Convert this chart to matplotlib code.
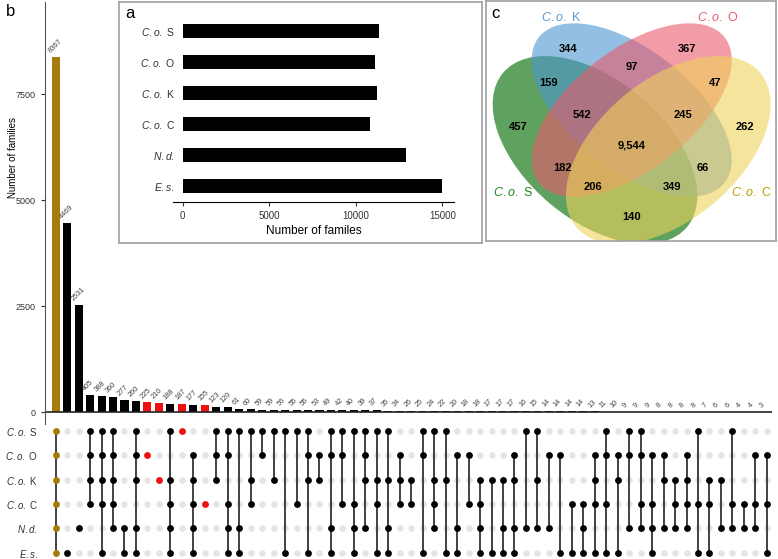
import matplotlib
matplotlib.use("Agg")
import matplotlib.pyplot as plt
from matplotlib.patches import Ellipse

plt.rcParams["font.family"] = ["Liberation Sans", "DejaVu Sans"]
plt.rcParams["mathtext.fontset"] = "custom"
plt.rcParams["mathtext.rm"] = "Liberation Sans"
plt.rcParams["mathtext.it"] = "Liberation Sans:italic"
plt.rcParams["mathtext.bf"] = "Liberation Sans:bold"

# ---- data ----
set_codes = ["S", "O", "K", "C", "N", "E"]
set_labels = [r"$\mathit{C{.}o{.}}$ S", r"$\mathit{C{.}o{.}}$ O", r"$\mathit{C{.}o{.}}$ K",
              r"$\mathit{C{.}o{.}}$ C", r"$\mathit{N{.}d{.}}$", r"$\mathit{E{.}s{.}}$"]

counts = [8367, 4469, 2531, 405, 388, 360, 277, 260, 225, 210, 188, 187, 177, 155,
          123, 120, 61, 60, 59, 59, 56, 55, 55, 53, 49, 42, 40, 39, 37, 35, 34, 26,
          25, 24, 22, 20, 18, 18, 17, 17, 17, 16, 15, 14, 14, 14, 14, 13, 11, 10,
          9, 9, 9, 8, 8, 8, 8, 7, 6, 6, 4, 4, 3]
members = ["SOKCNE", "E", "N", "SOKC", "SOKCE", "SOKCN", "NE", "SOKNE", "O", "K",
           "SKCNE", "S", "OKCNE", "C", "SOK", "SOCNE", "SNE", "SKC", "SO", "SK",
           "SE", "SC", "SOKE", "OK", "SONE", "SOC", "SCNE", "SOKN", "SKCE", "SKNE",
           "OKC", "KC", "SOE", "SKCN", "SKE", "ONE", "OC", "KCNE", "KE", "KNE",
           "OKNE", "SN", "SKN", "ON", "OE", "CE", "CNE", "OKCE", "SOCE", "OKE",
           "SON", "SOCN", "OCNE", "OKN", "KCN", "OKCN", "SCE", "KCE", "KN", "SCN",
           "CN", "OCN", "OCE"]

family_totals = [11350, 11110, 11230, 10820, 12900, 15000]

venn_counts = ["344", "367", "457", "262", "97", "159", "47", "542", "245",
               "9,544", "182", "66", "206", "349", "140"]

# ---- layout helpers ----
W, H = 778, 559
fig = plt.figure(figsize=(W / 100, H / 100), dpi=100)


def px_axes(l, t, r, b):
    return fig.add_axes([l / W, 1 - b / H, (r - l) / W, (b - t) / H])


gold = "#a57c0a"
red = "#f01010"
dark = "#222222"
grey_dot = "#e4e4e4"
xs = list(range(len(counts)))
colors = []
for m in members:
    if len(m) == 6:
        colors.append(gold)
    elif len(m) == 1 and m in "SOKC":
        colors.append(red)
    else:
        colors.append("black")

# ---- b: intersection bars ----
ax = px_axes(45, 2, 772, 425)
ax.bar(xs, counts, width=0.7, color=colors)
ax.axhline(0, color=dark, lw=1.2)
ax.set_xlim(-0.93, 62.45)
ax.set_ylim(-306, 9670)
for sp in ["top", "right", "bottom"]:
    ax.spines[sp].set_visible(False)
ax.spines["left"].set_color("#555555")
ax.set_xticks([])
ax.set_yticks([0, 2500, 5000, 7500])
ax.tick_params(axis="y", labelsize=6.5, length=3, width=0.8, colors="#333333")
for x, c in zip(xs, counts):
    ax.text(x - 0.3, c + 60, str(c), rotation=45, rotation_mode="anchor",
            ha="left", va="bottom", fontsize=5.3, color="#444444")
fig.text(13 / W, 1 - 157 / H, "Number of families", rotation=90,
         ha="center", va="center", fontsize=7)
fig.text(6 / W, 1 - 11 / H, "b", fontsize=12, va="center")

# ---- matrix ----
mx = px_axes(45, 425, 772, 559)
mx.set_xlim(-0.93, 62.45)
mx.set_ylim(5.25, -0.24)
for sp in mx.spines.values():
    sp.set_visible(False)
mx.set_xticks([])
for x in xs:
    mx.scatter([x] * 6, range(6), s=22, color=grey_dot, zorder=1, linewidths=0)
for x, m, col in zip(xs, members, colors):
    rows = [set_codes.index(s) for s in m]
    if len(rows) > 1:
        mx.plot([x, x], [min(rows), max(rows)], color="#333333", lw=1.3, zorder=2)
    mx.scatter([x] * len(rows), rows, s=24, color=col, zorder=3, linewidths=0)
mx.set_yticks(range(6))
mx.set_yticklabels(set_labels, fontsize=7, color="#333333")
mx.tick_params(axis="y", length=0, pad=5)

# ---- a: family totals inset ----
frame_a = px_axes(119, 2, 482, 243)
frame_a.set_xticks([])
frame_a.set_yticks([])
for sp in frame_a.spines.values():
    sp.set_color("#a0a0a0")
    sp.set_linewidth(1.2)
ia = px_axes(173, 15, 454, 201.7)
ia.patch.set_alpha(0)
ypos = list(range(len(family_totals) - 1, -1, -1))
ia.barh(ypos, family_totals, height=0.45, color="black")
ia.set_xlim(-560, 15677)
ia.set_ylim(-0.506, 5.516)
for sp in ["top", "right", "left"]:
    ia.spines[sp].set_visible(False)
ia.set_xticks([0, 5000, 10000, 15000])
ia.tick_params(axis="x", labelsize=7, length=3, colors="#333333")
ia.set_yticks(ypos)
ia.set_yticklabels(set_labels, fontsize=7.5, color="#333333")
ia.tick_params(axis="y", length=0, pad=-1.5)
ia.set_xlabel("Number of familes", fontsize=8.5, labelpad=3)
fig.text(125 / W, 1 - 14 / H, "a", fontsize=12, va="center")

# ---- c: Venn ----
vc = px_axes(486, 1, 776, 241)
vc.set_xlim(486, 776)
vc.set_ylim(241, 1)
vc.set_xticks([])
vc.set_yticks([])
for sp in vc.spines.values():
    sp.set_color("#a0a0a0")
    sp.set_linewidth(1.2)
ellipses = [
    ((595, 150), 240, 140, 40, "#0d720d", 0.66),
    ((631.7, 110), 236, 120, 38, "#4b96d0", 0.6),
    ((631.7, 110), 236, 120, -38, "#ea5a6c", 0.6),
    ((668.3, 150), 240, 140, -40, "#efd25a", 0.6),
]
for center, w, h, ang, col, alpha in ellipses:
    vc.add_patch(Ellipse(center, w, h, angle=ang, facecolor=col,
                         alpha=alpha, edgecolor="none"))
venn_pos = [(568, 49), (687, 49), (518, 127), (745, 127), (632, 67),
            (548, 83), (715, 83), (582, 115), (683, 115), (632, 145),
            (563, 168), (703, 168), (593, 187), (672, 187), (632, 217)]
for txt, (x, y) in zip(venn_counts, venn_pos):
    vc.text(x, y, txt, ha="center", va="center", fontsize=8, fontweight="bold")
set_names = [(r"$\mathit{C{.}o{.}}$ K", (561, 17), "#5b9bd5"),
             (r"$\mathit{C{.}o{.}}$ O", (718, 17), "#e8606e"),
             (r"$\mathit{C{.}o{.}}$ S", (513, 192), "#1e8a1e"),
             (r"$\mathit{C{.}o{.}}$ C", (752, 192), "#b8a200")]
for txt, (x, y), col in set_names:
    vc.text(x, y, txt, ha="center", va="center", fontsize=9, color=col)
fig.text(491 / W, 1 - 14 / H, "c", fontsize=12, va="center")

fig.savefig("out.png", dpi=100)
